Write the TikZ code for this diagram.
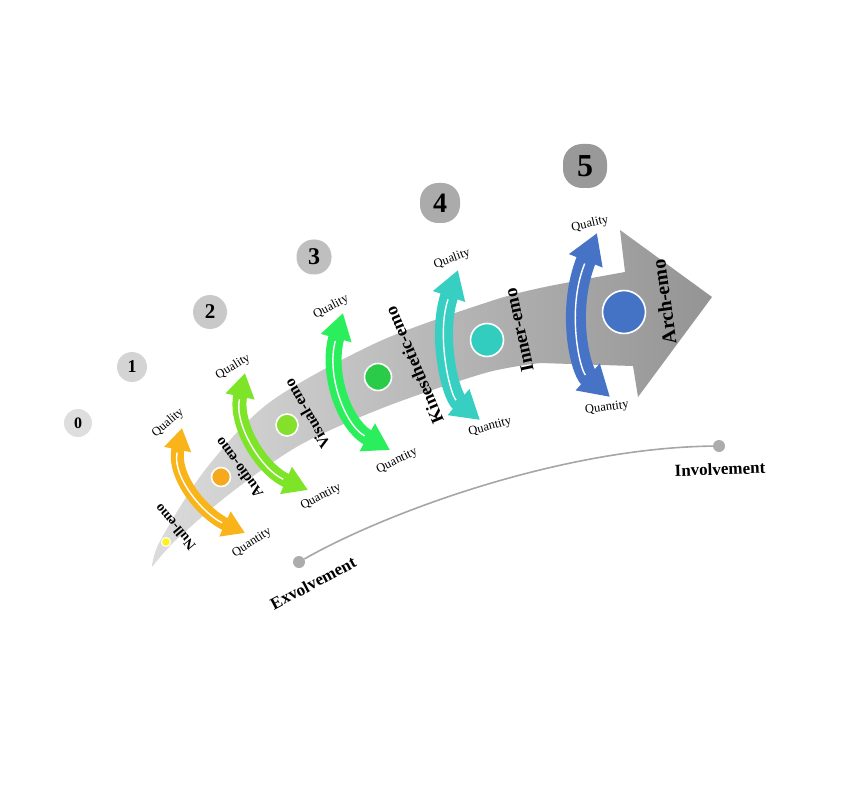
\documentclass[tikz,border=0pt]{standalone}
\usepackage{fontspec}
\setmainfont{Liberation Serif}
\usepackage{tikz}
\usetikzlibrary{arrows.meta}
\definecolor{nullcol}{HTML}{FFF21A}
\definecolor{audiocol}{HTML}{F8B418}
\definecolor{audiodot}{HTML}{F6A91C}
\definecolor{visualcol}{HTML}{7DE428}
\definecolor{visualdot}{HTML}{84E02B}
\definecolor{kincol}{HTML}{2BEE5C}
\definecolor{kindot}{HTML}{2ACB48}
\definecolor{innercol}{HTML}{36CFC1}
\definecolor{innerdot}{HTML}{32CDBE}
\definecolor{archcol}{HTML}{4673C6}
\definecolor{archdot}{HTML}{4472C4}
% two-way curved arrow: top tip, controls, bottom tip, colour, band, head width, head length
\newcommand{\twoway}[8]{%
  \draw[#5,line width=#6pt,{Triangle[width=#7pt,length=#8pt]}-{Triangle[width=#7pt,length=#8pt]}]
    #1 .. controls #2 and #3 .. #4;
  \draw[white,line width=1.4pt,shorten <=#8pt+3pt,shorten >=#8pt+3pt]
    #1 .. controls #2 and #3 .. #4;}

\begin{document}
\begin{tikzpicture}[x=1pt,y=-1pt,
  emodot/.style={circle,draw=white,line width=1.6pt,inner sep=0pt},
  stagename/.style={font=\fontsize{#1}{#1}\selectfont\bfseries,inner sep=0pt},
  qlabel/.style={font=\fontsize{12.5}{13}\selectfont,inner sep=0pt},
  enddot/.style={circle,fill=gray!65,minimum size=12pt,inner sep=0pt},
  endlabel/.style={font=\fontsize{17}{17}\selectfont\bfseries,inner sep=0pt}]
\useasboundingbox (0,0) rectangle (850,799);

% main band with arrow head
\shade[left color=black!14,right color=black!42]
  plot[smooth] coordinates {(152,567) (160,541) (205,470) (270,402) (378,342) (485,303) (540,288) (625,272)}
  -- (620,230) -- (712,297) -- (638,397) -- (633,366)
  -- plot[smooth] coordinates {(540,363) (485,373) (385,407) (300,445) (232,492) (176,540) (152,567)}
  -- cycle;

% level markers
\foreach \n/\x/\y/\s/\r/\f/\g in {0/78/423/28/14/16/13, 1/132/367/30/15/18/17, 2/210/312/34/17/21/21,
  3/314/257/35/17/24/25, 4/440/203/40/18/28/33, 5/585/166/44/19/32/40}
  \node[fill=black!\g,rounded corners=\r pt,minimum size=\s pt,inner sep=0pt,
    font={\fontsize{\f}{\f}\selectfont\bfseries}] (lvl\n) at (\x,\y) {\n};

% two-way arrows
\twoway{(182,428)}{(172,478)}{(205,515)}{(245,533)}{audiocol}{13}{26}{22}
\twoway{(245,373)}{(234,425)}{(262,470)}{(308,490)}{visualcol}{14}{28}{24}
\twoway{(343,313)}{(326,375)}{(345,425)}{(390,450)}{kincol}{16}{30}{26}
\twoway{(458,270)}{(436,335)}{(450,395)}{(480,420)}{innercol}{18}{32}{28}
\twoway{(597,233)}{(566,310)}{(580,370)}{(610,397)}{archcol}{20}{34}{30}

% stage dots
\node[emodot,fill=nullcol,minimum size=9pt,line width=1pt] (null) at (166,542) {};
\node[emodot,fill=audiodot,minimum size=19pt] (audio) at (221,477) {};
\node[emodot,fill=visualdot,minimum size=22pt] (visual) at (287,425) {};
\node[emodot,fill=kindot,minimum size=27pt] (kin) at (378,377) {};
\node[emodot,fill=innerdot,minimum size=33pt] (inner) at (487,340) {};
\node[emodot,fill=archdot,minimum size=43pt] (arch) at (624,312) {};

% stage names
\node[stagename=14,rotate=130] (nulltxt) at (175,527) {Null-emo};
\node[stagename=15,rotate=126] (audiotxt) at (239,468) {Audio-emo};
\node[stagename=16,rotate=120] (visualtxt) at (307,414) {Visual-emo};
\node[stagename=18,rotate=113] (kintxt) at (414,365) {Kinesthetic-emo};
\node[stagename=19,rotate=102] (innertxt) at (519,330) {Inner-emo};
\node[stagename=20,rotate=98] (archtxt) at (664,302) {Arch-emo};

% quality / quantity
\foreach \k/\qx/\qy/\qa/\nx/\ny/\na in {audio/168/423/41/252/543/33, visual/233/367/31/321/497/28,
  kin/331/307/27/397/461/26, inner/452/259/20/490/427/15, arch/590/224/13/607/408/8} {
  \node[qlabel,rotate=\qa] (\k ql) at (\qx,\qy) {Quality};
  \node[qlabel,rotate=\na] (\k qn) at (\nx,\ny) {Quantity};
}

% exvolvement to involvement
\node[enddot] (exvo) at (299,562) {};
\node[enddot] (invo) at (719,446) {};
\draw[gray!70,line width=1.6pt] (exvo) .. controls (385,513) and (560,448) .. (invo);
\node[endlabel,rotate=28] (exvotxt) at (313,583) {Exvolvement};
\node[endlabel,rotate=2] (invotxt) at (720,469) {Involvement};
\end{tikzpicture}
\end{document}
